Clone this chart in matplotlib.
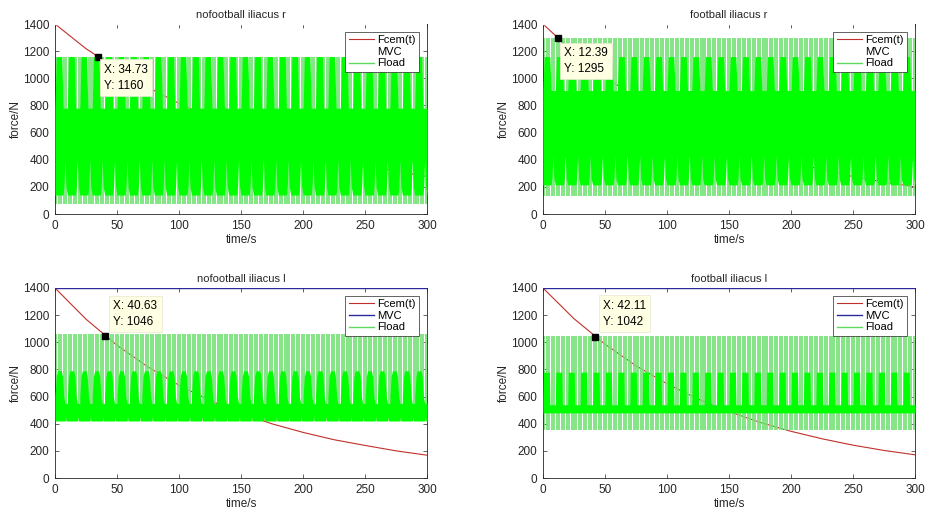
import numpy as np
import matplotlib
matplotlib.use('Agg')
import matplotlib.pyplot as plt
from matplotlib.lines import Line2D

plt.rcParams['font.family'] = ['Liberation Sans', 'DejaVu Sans']
plt.rcParams['font.size'] = 8

titles = ['nofootball iliacus r', 'football iliacus r', 'nofootball iliacus l', 'football iliacus l']

# Fcem(t) curves
t_fcem = [0, 25, 50, 75, 100, 125, 150, 175, 200, 225, 250, 275, 300]
fcem_tl = [1400, 1218, 1068, 933, 815, 712, 622, 543, 474, 414, 362, 316, 276]
fcem_tr = [1400, 1189, 1010, 858, 729, 619, 526, 447, 385, 328, 276, 235, 200]
fcem_bl = [1400, 1170, 978, 818, 683, 571, 477, 399, 336, 282, 240, 200, 168]
fcem_br = [1400, 1174, 986, 827, 694, 582, 489, 410, 344, 289, 242, 203, 171]

# MVC level
t_mvc = [0, 300]
mvc = [1400, 1400]

# data tips
tips = [(34.73, 1160), (12.39, 1295), (40.63, 1046), (42.11, 1042)]

# Fload: one 10 s cycle of the dense band (phase in s, lower / upper edge)
period = 10
n_cycles = 30
phase_tl = [0, 1, 5.5, 6.5, 7.2, 8, 8.8, 10]
hi_tl = [780, 1160, 1160, 780, 780, 780, 780, 780]
lo_tl = [140, 140, 140, 140, 200, 400, 200, 140]

phase_tr = [0, 1, 5.5, 6.5, 7.2, 8, 8.8, 10]
hi_tr = [910, 1160, 1160, 910, 910, 910, 910, 910]
lo_tr = [215, 215, 215, 215, 260, 430, 260, 215]

phase_bl = [0, 1, 2, 5, 6, 7, 8, 8.5, 9, 10]
hi_bl = [600, 750, 790, 790, 750, 600, 550, 550, 550, 550]
lo_bl = [420, 420, 420, 420, 420, 420, 420, 455, 420, 420]

phase_br = [0, 0.4, 5.2, 5.6, 10]
hi_br = [540, 780, 780, 540, 540]
lo_br = [480, 480, 480, 480, 480]

# Fload peaks (light striped part of the signal)
stripe_phase = [1, 3, 5, 7, 9]
peak_lo = [75, 135, 420, 355]
peak_hi = [1160, 1295, 1060, 1050]

fcems = [fcem_tl, fcem_tr, fcem_bl, fcem_br]
bands = [(phase_tl, lo_tl, hi_tl), (phase_tr, lo_tr, hi_tr),
         (phase_bl, lo_bl, hi_bl), (phase_br, lo_br, hi_br)]
mvc_colors = ['white', 'white', '#2b2b9c', '#2b2b9c']
tip_offsets = [((6, -7), 'top'), ((6, -9), 'top'), ((8, 8), 'bottom'), ((8, 9), 'bottom')]

fig = plt.figure(figsize=(9.28, 5.13), dpi=100)
positions = [[0.0593, 0.5828, 0.401, 0.3704], [0.5851, 0.5828, 0.401, 0.3704],
             [0.0593, 0.0682, 0.401, 0.3704], [0.5851, 0.0682, 0.401, 0.3704]]

red = '#c0302a'
green = '#00ff00'
light_green = '#74e274'
dark = '#262626'

for i in range(4):
    ax = fig.add_axes(positions[i])
    ax.plot(t_fcem, fcems[i], color=red, lw=0.8, zorder=1)

    # light peaks
    stripes = np.concatenate([k * period + np.array(stripe_phase) for k in range(n_cycles)])
    ax.vlines(stripes, peak_lo[i], peak_hi[i], color=light_green, lw=1.25, zorder=2)

    # dense band
    ph, lo, hi = bands[i]
    tt = np.concatenate([k * period + np.array(ph) for k in range(n_cycles)])
    ax.fill_between(tt, np.tile(lo, n_cycles), np.tile(hi, n_cycles),
                    color=green, lw=0, zorder=3)

    ax.plot(t_mvc, mvc, color=mvc_colors[i], lw=1.0, zorder=4)

    # data tip
    x, y = tips[i]
    ax.plot([x], [y], 's', color='black', ms=4, zorder=6, clip_on=False)
    off, va = tip_offsets[i]
    ax.annotate('X: %.2f\nY: %d' % (x, y), xy=(x, y), xytext=off,
                textcoords='offset pixels', ha='left', va=va, fontsize=8.5,
                linespacing=1.45, zorder=7,
                bbox=dict(boxstyle='square,pad=0.35', fc='#ffffe4', ec='#e8e8d0', lw=0.5))

    ax.set_xlim(0, 300)
    ax.set_ylim(0, 1400)
    ax.set_xticks(range(0, 301, 50))
    ax.set_yticks(range(0, 1401, 200))
    ax.tick_params(direction='in', top=True, right=True, length=3, width=0.5,
                   colors=dark, labelsize=8.5, pad=4)
    for s in ax.spines.values():
        s.set_color(dark)
        s.set_linewidth(0.6)
    ax.set_title(titles[i], fontsize=8, color=dark, pad=4)
    ax.set_xlabel('time/s', fontsize=8.5, color=dark, labelpad=2)
    ax.set_ylabel('force/N', fontsize=8.5, color=dark, labelpad=1)

    handles = [Line2D([], [], color=red, lw=0.8),
               Line2D([], [], color=mvc_colors[i], lw=1.0),
               Line2D([], [], color='#5ed85e', lw=1.0)]
    leg = ax.legend(handles, ['Fcem(t)', 'MVC', 'Fload'], loc='upper right',
                    fontsize=8, frameon=True, fancybox=False, framealpha=1,
                    edgecolor=dark, borderaxespad=0.7, borderpad=0.3,
                    labelspacing=0.15, handlelength=2.3, handletextpad=0.3)
    leg.get_frame().set_linewidth(0.5)
    leg.set_zorder(8)

fig.savefig('out.png', dpi=100)
